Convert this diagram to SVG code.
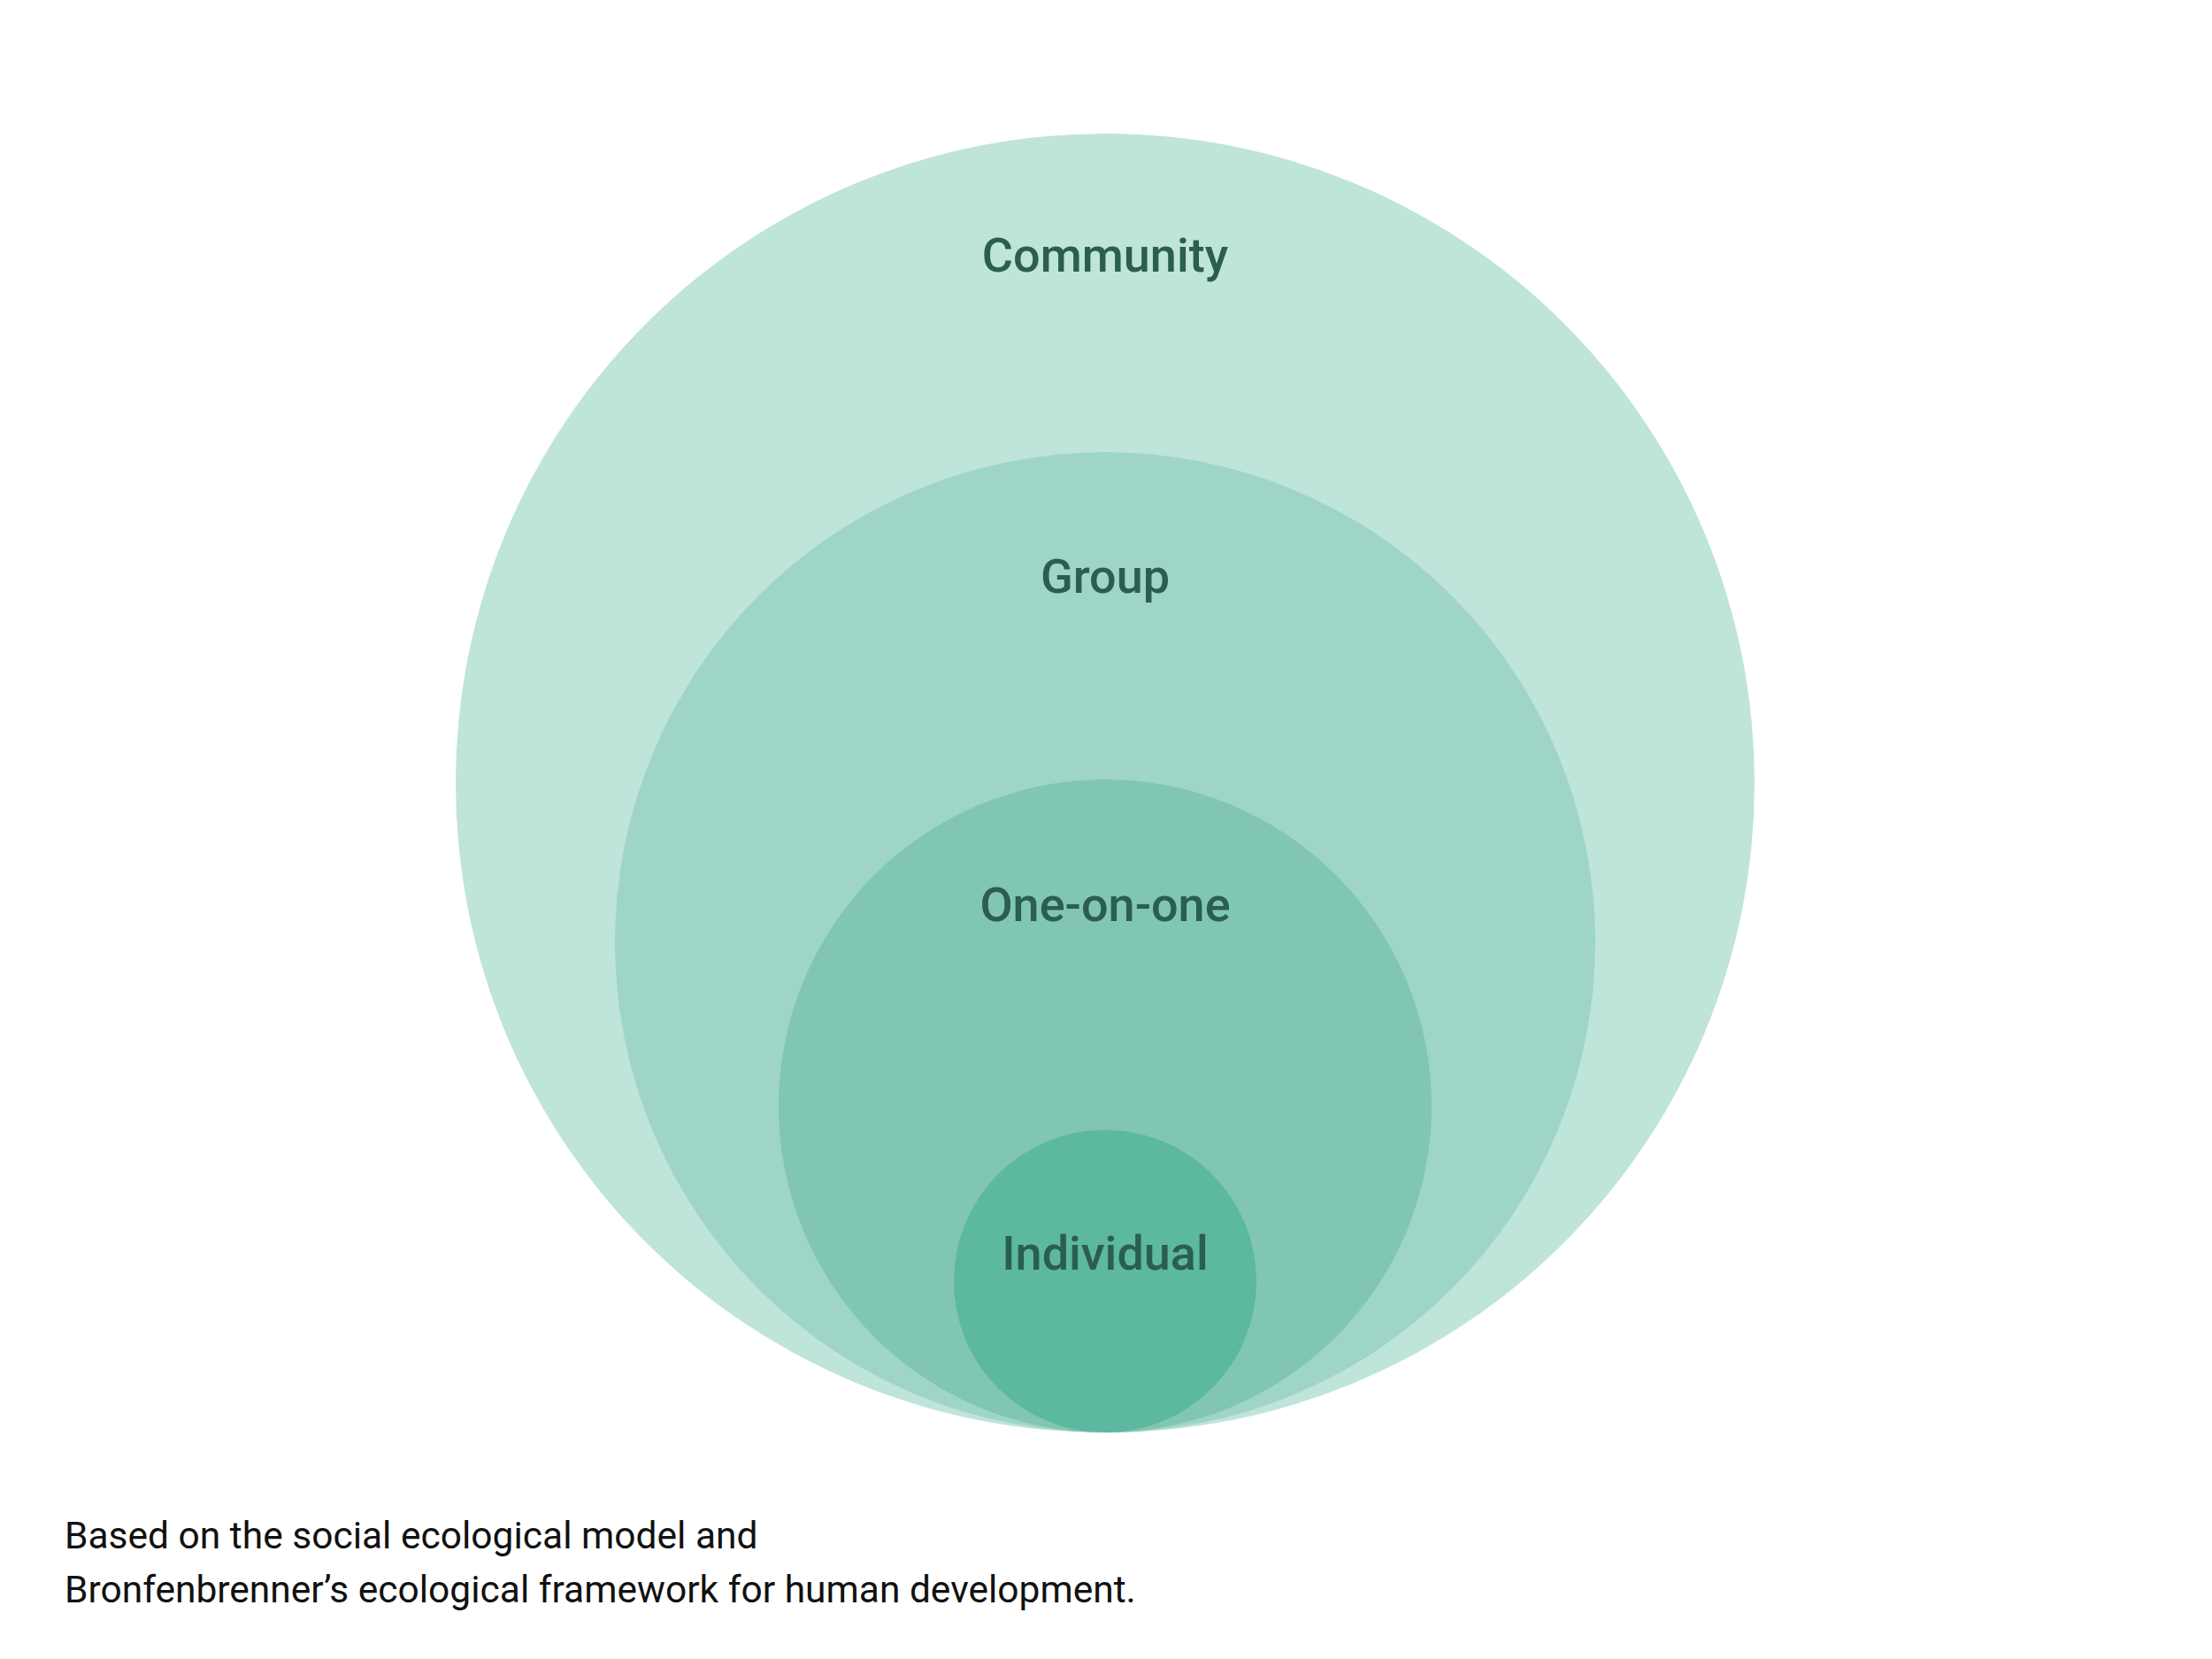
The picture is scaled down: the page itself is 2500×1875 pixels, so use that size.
<svg xmlns="http://www.w3.org/2000/svg" width="2500" height="1875" viewBox="0 0 2500 1875">
<style>
.lbl{font-family:Roboto,"Liberation Sans",sans-serif;font-weight:500;font-size:54px;fill:#2B5E4F;text-anchor:middle}
.note{font-family:Roboto,"Liberation Sans",sans-serif;font-weight:400;font-size:42.5px;fill:#111}
</style>
<rect width="2500" height="1875" fill="#fff"/>
<g id="community"><circle cx="1249" cy="885" r="734" fill="#BFE4D9"/><text class="lbl" x="1249" y="307">Community</text></g>
<g id="group"><circle cx="1249" cy="1065" r="554" fill="#9FD5C8"/><text class="lbl" x="1249" y="670">Group</text></g>
<g id="one-on-one"><circle cx="1249" cy="1250" r="369" fill="#80C6B2"/><text class="lbl" x="1249" y="1041">One-on-one</text></g>
<g id="individual"><circle cx="1249" cy="1448" r="171" fill="#5CB89F"/><text class="lbl" x="1249" y="1435">Individual</text></g>
<g id="connectors"/>
<g id="note"><text class="note" x="73" y="1750">Based on the social ecological model and</text><text class="note" x="73" y="1811">Bronfenbrenner’s ecological framework for human development.</text></g>
</svg>
